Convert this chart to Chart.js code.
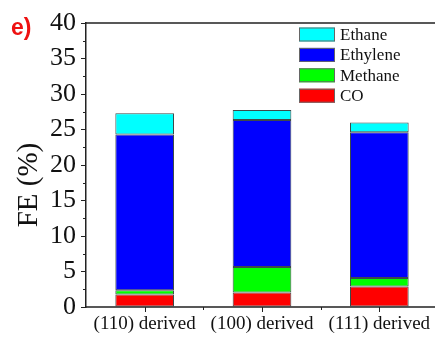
<!DOCTYPE html>
<html>
<head>
<meta charset="utf-8">
<script src="https://cdn.jsdelivr.net/npm/chart.js@4/dist/chart.umd.min.js"></script>
<style>
  html, body { margin: 0; padding: 0; background: #fff; overflow: hidden; }
  #caja { width: 435px; height: 337px; overflow: hidden; position: relative; }
</style>
</head>
<body>
<div id="caja"><canvas id="grafico" width="442" height="337"></canvas></div>
<script>
// datos
const categorias = ['(110) derived', '(100) derived', '(111) derived'];
const valoresCO = [1.75, 2.05, 2.9];
const valoresMetano = [0.6, 3.6, 1.2];
const valoresEtileno = [21.95, 20.7, 20.5];
const valoresEtano = [3.0, 1.4, 1.4];
const ticksY = [0, 5, 10, 15, 20, 25, 30, 35, 40];

const serif = "'Liberation Serif', 'Times New Roman', serif";
const colorEje = '#222';

// leyenda, ejes, ticks menores, marco y la letra del panel
const extras = {
    id: 'extras',
    afterDraw(chart) {
        const ctx = chart.ctx;
        const area = chart.chartArea;
        const x = chart.scales.x;
        const y = chart.scales.y;
        ctx.save();

        // marco superior y eje inferior
        ctx.strokeStyle = colorEje;
        ctx.lineWidth = 1.5;
        ctx.beginPath();
        ctx.moveTo(area.left, area.top);
        ctx.lineTo(chart.width, area.top);
        ctx.moveTo(area.left - 1, area.bottom);
        ctx.lineTo(chart.width, area.bottom);
        ctx.stroke();

        // ticks menores del eje y
        ctx.lineWidth = 1;
        for (let v = 2.5; v < 40; v += 5) {
            const py = Math.round(y.getPixelForValue(v)) + 0.5;
            ctx.beginPath();
            ctx.moveTo(area.left - 3, py);
            ctx.lineTo(area.left, py);
            ctx.stroke();
        }
        // ticks del eje x: centro de cada categoria y separaciones
        categorias.forEach((c, i) => {
            const px = Math.round(x.getPixelForValue(i)) + 0.5;
            ctx.beginPath();
            ctx.moveTo(px, area.bottom);
            ctx.lineTo(px, area.bottom + 5);
            ctx.stroke();
            if (i < categorias.length - 1) {
                const pm = Math.round((x.getPixelForValue(i) + x.getPixelForValue(i + 1)) / 2) + 0.5;
                ctx.beginPath();
                ctx.moveTo(pm, area.bottom);
                ctx.lineTo(pm, area.bottom + 3);
                ctx.stroke();
            }
        });

        // titulo del eje y
        ctx.fillStyle = '#111';
        ctx.font = '29px ' + serif;
        ctx.textAlign = 'center';
        ctx.textBaseline = 'middle';
        ctx.translate(29, 185);
        ctx.rotate(-Math.PI / 2);
        ctx.fillText('FE (%)', 0, 0);
        ctx.setTransform(1, 0, 0, 1, 0, 0);

        // leyenda (orden inverso)
        const conjuntos = chart.data.datasets.slice().reverse();
        const lx = area.left + 213;
        conjuntos.forEach((ds, i) => {
            const cy = area.top + 11.5 + i * 20.4;
            ctx.fillStyle = ds.backgroundColor;
            ctx.fillRect(lx, cy - 7, 36, 14);
            ctx.strokeStyle = '#666';
            ctx.lineWidth = 1;
            ctx.strokeRect(lx + 0.5, cy - 6.5, 35, 13);
            ctx.fillStyle = '#111';
            ctx.font = '17px ' + serif;
            ctx.textAlign = 'left';
            ctx.textBaseline = 'middle';
            ctx.fillText(ds.label, lx + 41, cy + 1);
        });

        // letra del panel
        ctx.fillStyle = '#ee1111';
        ctx.font = "bold 23px 'Liberation Sans', Arial, sans-serif";
        ctx.textAlign = 'left';
        ctx.textBaseline = 'alphabetic';
        ctx.fillText('e)', 11, 35);

        ctx.restore();
    }
};

const ctx = document.getElementById('grafico').getContext('2d');
const borde = '#3d4a4a';

new Chart(ctx, {
    type: 'bar',
    data: {
        labels: categorias,
        datasets: [
            { label: 'CO', data: valoresCO, backgroundColor: '#ff0000' },
            { label: 'Methane', data: valoresMetano, backgroundColor: '#00ff00' },
            { label: 'Ethylene', data: valoresEtileno, backgroundColor: '#0000ff' },
            { label: 'Ethane', data: valoresEtano, backgroundColor: '#00ffff' }
        ].map(d => Object.assign(d, {
            borderColor: borde,
            borderWidth: 1,
            borderSkipped: false,
            barPercentage: 0.5,
            categoryPercentage: 1
        }))
    },
    options: {
        responsive: false,
        animation: false,
        layout: { padding: { top: 23, right: 4, left: 0, bottom: 0 } },
        plugins: {
            legend: { display: false },
            tooltip: { enabled: false }
        },
        scales: {
            x: {
                stacked: true,
                afterFit: s => { s.height = 30; },
                grid: { display: false, drawTicks: false },
                border: { display: false },
                ticks: { color: '#111', font: { family: serif, size: 19 }, padding: 6, maxRotation: 0 }
            },
            y: {
                stacked: true,
                min: 0,
                max: 40,
                afterFit: s => { s.width = 86; },
                afterBuildTicks: s => { s.ticks = ticksY.map(v => ({ value: v })); },
                grid: { drawOnChartArea: false, tickLength: 5, color: colorEje },
                border: { color: colorEje, width: 1.5 },
                ticks: { color: '#111', font: { family: serif, size: 26 }, padding: 5 }
            }
        }
    },
    plugins: [extras]
});
</script>
</body>
</html>
